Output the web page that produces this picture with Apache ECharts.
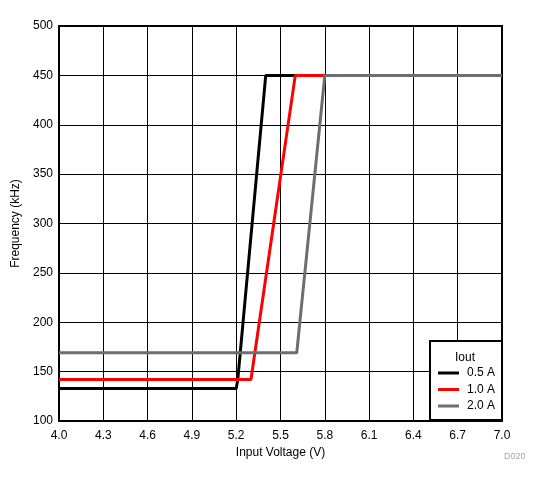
<!DOCTYPE html>
<html><head><meta charset="utf-8">
<script src="https://cdn.jsdelivr.net/npm/echarts@6/dist/echarts.min.js"></script>
<style>html,body{margin:0;padding:0;background:#fff}#c{width:541px;height:483px}</style>
</head><body><div id="c"></div>
<script>
var seriesNames = ['0.5 A', '1.0 A', '2.0 A'];
var seriesColors = ['#000000', '#ff0000', '#6e6e6e'];
var v05 = [4.0, 5.2, 5.21, 5.4, 7.0];
var f05 = [133, 133, 141, 450, 450];
var v10 = [4.0, 5.3, 5.6, 7.0];
var f10 = [142, 142, 450, 450];
var v20 = [4.0, 5.61, 5.8, 7.0];
var f20 = [169, 169, 450, 450];
var xTicks = [4.0, 4.3, 4.6, 4.9, 5.2, 5.5, 5.8, 6.1, 6.4, 6.7, 7.0];
var yTicks = [100, 150, 200, 250, 300, 350, 400, 450, 500];

function pairs(xs, ys) { return xs.map(function (x, i) { return [x, ys[i]]; }); }
var allV = [v05, v10, v20], allF = [f05, f10, f20];
var font = 'Liberation Sans, Arial, sans-serif';

var chart = echarts.init(document.getElementById('c'), null, {renderer: 'canvas'});
chart.setOption({
  animation: false,
  backgroundColor: '#ffffff',
  grid: {left: 59, right: 39, top: 26, bottom: 62, show: true, borderColor: '#000', borderWidth: 2, containLabel: false},
  xAxis: {
    type: 'value', min: 4.0, max: 7.0, interval: 0.3,
    name: 'Input Voltage (V)', nameLocation: 'middle', nameGap: 25,
    nameTextStyle: {color: '#000', fontSize: 12, fontFamily: font},
    axisLine: {show: true, lineStyle: {color: '#000', width: 2}},
    axisTick: {show: false},
    axisLabel: {color: '#000', fontSize: 12, fontFamily: font, margin: 9,
      formatter: function (v) { return v.toFixed(1); }},
    splitLine: {show: true, lineStyle: {color: '#000', width: 1}}
  },
  yAxis: {
    type: 'value', min: 100, max: 500, interval: 50,
    name: 'Frequency (kHz)', nameLocation: 'middle', nameGap: 36,
    nameTextStyle: {color: '#000', fontSize: 12, fontFamily: font},
    axisLine: {show: true, lineStyle: {color: '#000', width: 2}},
    axisTick: {show: false},
    axisLabel: {color: '#000', fontSize: 12, fontFamily: font, margin: 6},
    splitLine: {show: true, lineStyle: {color: '#000', width: 1}}
  },
  legend: {
    orient: 'vertical', left: 430, top: 341,
    data: seriesNames,
    backgroundColor: '#fff', borderColor: '#000', borderWidth: 2,
    padding: [26, 7, 8, 8], itemGap: 4.5, itemWidth: 21, itemHeight: 3,
    icon: 'rect',
    textStyle: {color: '#000', fontSize: 12, fontFamily: font, padding: [0, 0, 0, 3]}
  },
  graphic: [
    {type: 'text', left: 455, top: 352, z: 100, style: {text: 'Iout', fill: '#000', font: '12px ' + font}},
    {type: 'text', left: 504, top: 452, style: {text: 'D020', fill: '#a8a8a8', font: '9px ' + font}}
  ],
  series: seriesNames.map(function (n, i) {
    return {
      name: n, type: 'line', data: pairs(allV[i], allF[i]),
      showSymbol: false, symbol: 'none',
      lineStyle: {color: seriesColors[i], width: 3},
      itemStyle: {color: seriesColors[i]}
    };
  })
});
</script></body></html>
